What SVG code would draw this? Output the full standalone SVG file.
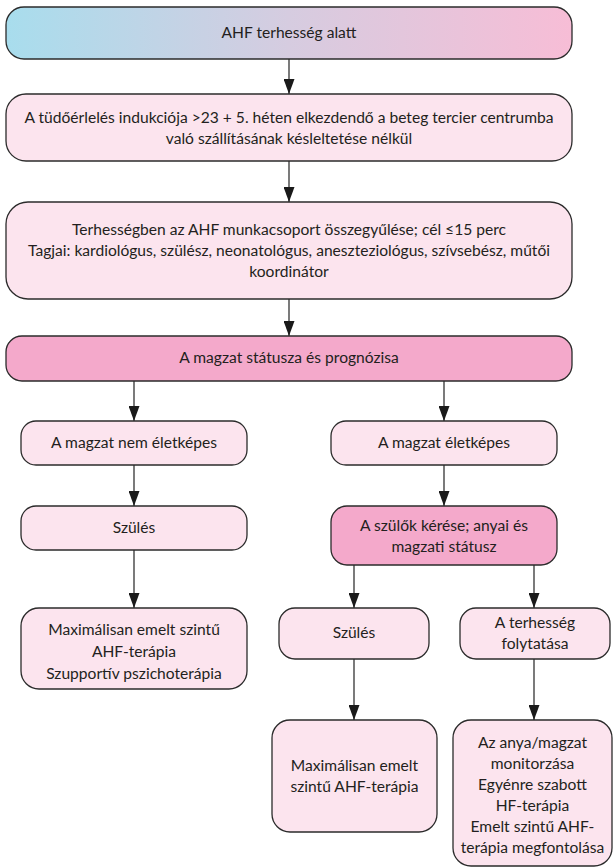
<svg xmlns="http://www.w3.org/2000/svg" width="614" height="868" viewBox="0 0 614 868">
<defs>
<linearGradient id="g1" x1="0" y1="0" x2="1" y2="0">
<stop offset="0" stop-color="#a8dded"/>
<stop offset="0.5" stop-color="#d6cce0"/>
<stop offset="1" stop-color="#f7bdd6"/>
</linearGradient>
<marker id="ah" markerUnits="userSpaceOnUse" markerWidth="15" markerHeight="11" viewBox="0 0 15 11" refX="15" refY="5.5" orient="auto">
<path d="M0,0 L15,5.5 L0,11 Z" fill="#1a1a1a"/>
</marker>
</defs>
<style>
rect{stroke:#2b2b2b;stroke-width:1.3}
.lt{fill:#fce4ee}
.dk{fill:#f4a9cb}
text{font-family:"Lato","Liberation Sans",sans-serif;font-size:15.6px;fill:#231f20;text-anchor:middle}
#connectors line{stroke:#333;stroke-width:1.3;marker-end:url(#ah)}
</style>
<g id="connectors">
<line x1="289" y1="59" x2="289" y2="94"/>
<line x1="289" y1="161" x2="289" y2="202"/>
<line x1="289" y1="299" x2="289" y2="336"/>
<line x1="134" y1="381" x2="134" y2="421"/>
<line x1="444" y1="381" x2="444" y2="421"/>
<line x1="134" y1="465" x2="134" y2="506"/>
<line x1="444" y1="465" x2="444" y2="506"/>
<line x1="134" y1="550" x2="134" y2="608"/>
<line x1="354" y1="565" x2="354" y2="608"/>
<line x1="534" y1="565" x2="534" y2="608"/>
<line x1="354" y1="659" x2="354" y2="720"/>
<line x1="534" y1="659" x2="534" y2="720"/>
</g>
<g id="n1"><rect x="6" y="7" width="566" height="52" rx="18" fill="url(#g1)"/><text x="289" y="38">AHF terhesség alatt</text></g>
<g id="n2"><rect class="lt" x="6" y="94" width="566" height="67" rx="20"/><text x="289" y="123">A tüdőérlelés indukciója &gt;23 + 5. héten elkezdendő a beteg tercier centrumba</text><text x="289" y="144">való szállításának késleltetése nélkül</text></g>
<g id="n3"><rect class="lt" x="6" y="202" width="566" height="97" rx="22"/><text x="289" y="235">Terhességben az AHF munkacsoport összegyűlése; cél ≤15 perc</text><text x="289" y="256">Tagjai: kardiológus, szülész, neonatológus, aneszteziológus, szívsebész, műtői</text><text x="289" y="277">koordinátor</text></g>
<g id="n4"><rect class="dk" x="6" y="336" width="566" height="45" rx="16"/><text x="289" y="363">A magzat státusza és prognózisa</text></g>
<g id="n5"><rect class="lt" x="21" y="421" width="226" height="44" rx="15"/><text x="134" y="448">A magzat nem életképes</text></g>
<g id="n6"><rect class="lt" x="331" y="421" width="226" height="44" rx="15"/><text x="444" y="448">A magzat életképes</text></g>
<g id="n7"><rect class="lt" x="21" y="506" width="226" height="44" rx="15"/><text x="134" y="533">Szülés</text></g>
<g id="n8"><rect class="dk" x="331" y="506" width="226" height="59" rx="16"/><text x="444" y="531">A szülők kérése; anyai és</text><text x="444" y="552">magzati státusz</text></g>
<g id="n9"><rect class="lt" x="21" y="608" width="226" height="81" rx="18"/><text x="134" y="635">Maximálisan emelt szintű</text><text x="134" y="657">AHF-terápia</text><text x="134" y="679">Szupportív pszichoterápia</text></g>
<g id="n10"><rect class="lt" x="279" y="608" width="150" height="51" rx="16"/><text x="354" y="638">Szülés</text></g>
<g id="n11"><rect class="lt" x="460" y="608" width="150" height="51" rx="16"/><text x="535" y="628">A terhesség</text><text x="535" y="649">folytatása</text></g>
<g id="n12"><rect class="lt" x="272" y="720" width="165" height="112" rx="18"/><text x="354.5" y="771">Maximálisan emelt</text><text x="354.5" y="792">szintű AHF-terápia</text></g>
<g id="n13"><rect class="lt" x="453" y="720" width="159" height="146" rx="18"/><text x="532.5" y="748">Az anya/magzat</text><text x="532.5" y="769">monitorzása</text><text x="532.5" y="790">Egyénre szabott</text><text x="532.5" y="811">HF-terápia</text><text x="532.5" y="832">Emelt szintű AHF-</text><text x="532.5" y="853">terápia megfontolása</text></g>
</svg>
